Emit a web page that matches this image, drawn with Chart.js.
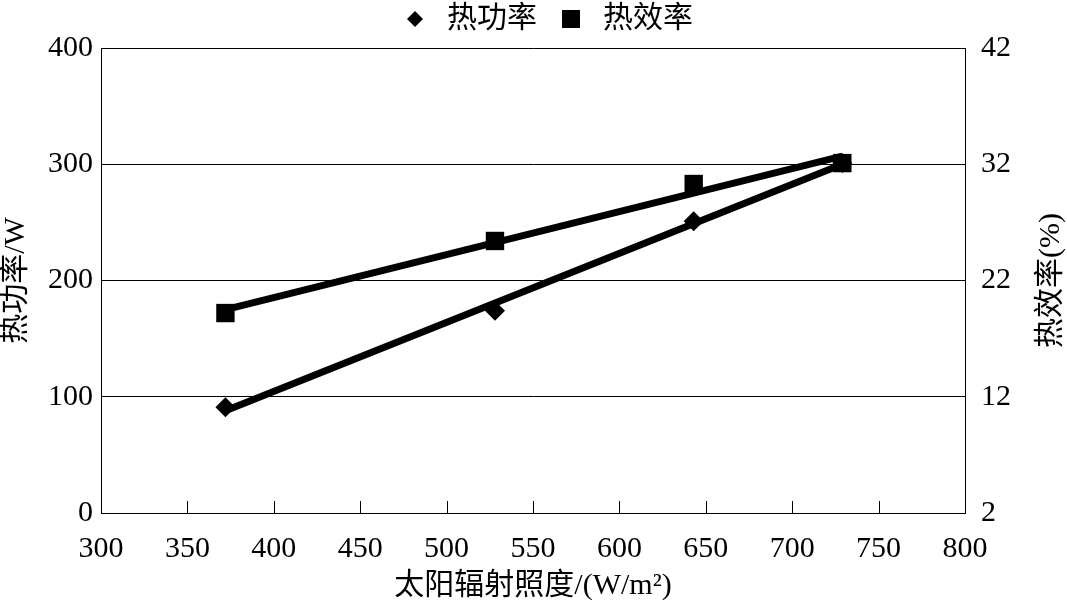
<!DOCTYPE html>
<html>
<head>
<meta charset="utf-8">
<script src="https://cdn.jsdelivr.net/npm/chart.js@4/dist/chart.umd.min.js"></script>
<style>
  html, body { margin: 0; padding: 0; background: #fff; }
  #wrap { width: 1067px; height: 604px; }
</style>
</head>
<body>
<div id="wrap"><canvas id="chart" width="1067" height="604"></canvas></div>
<script>
// values
const irradiance = [372, 528, 643, 729];
const heatPower = [91, 174, 251, 301];
const heatEff = [19.2, 25.4, 30.3, 32.1];

// linear trend lines (end values)
const trendX = [372, 729];
const powerTrend = [88, 300];
const effTrend = [19.5, 32.7];

const xTicks = { min: 300, max: 800, step: 50 };
const powerTicks = { min: 0, max: 400, step: 100 };
const effTicks = { min: 2, max: 42, step: 10 };

const serif = "'Liberation Serif', 'Noto Sans CJK SC', serif";

const toPoints = (xs, ys) => xs.map((x, i) => ({ x: x, y: ys[i] }));

// small marker images for the legend
function markerCanvas(kind) {
    const c = document.createElement('canvas');
    const s = kind === 'diamond' ? 16 : 18;
    c.width = s; c.height = s;
    const g = c.getContext('2d');
    g.fillStyle = '#000';
    if (kind === 'diamond') {
        g.beginPath();
        g.moveTo(s / 2, 0); g.lineTo(s, s / 2); g.lineTo(s / 2, s); g.lineTo(0, s / 2);
        g.closePath(); g.fill();
    } else {
        g.fillRect(0, 0, s, s);
    }
    return c;
}
const legendMarks = [markerCanvas('diamond'), markerCanvas('square')];

// ticks on the x axis point into the plot
const innerTicks = {
    id: 'innerTicks',
    afterDraw(chart) {
        const x = chart.scales.x;
        const ctx = chart.ctx;
        const bottom = chart.chartArea.bottom;
        ctx.save();
        ctx.strokeStyle = '#000';
        ctx.lineWidth = 1;
        x.ticks.forEach(t => {
            const px = Math.round(x.getPixelForValue(t.value)) + 0.5;
            ctx.beginPath();
            ctx.moveTo(px, bottom);
            ctx.lineTo(px, bottom - 12);
            ctx.stroke();
        });
        ctx.restore();
    }
};

// right axis title reads bottom to top
const rightTitle = {
    id: 'rightTitle',
    afterDraw(chart) {
        const a = chart.chartArea;
        const ctx = chart.ctx;
        ctx.save();
        ctx.translate(a.right + 86, (a.top + a.bottom) / 2);
        ctx.rotate(-Math.PI / 2);
        ctx.font = '30px ' + serif;
        ctx.fillStyle = '#000';
        ctx.textAlign = 'center';
        ctx.textBaseline = 'middle';
        ctx.fillText('热效率(%)', 0, 0);
        ctx.restore();
    }
};

Chart.defaults.color = '#000';
Chart.defaults.font.family = serif;

new Chart(document.getElementById('chart'), {
    type: 'scatter',
    data: {
        datasets: [
            {
                label: '热功率',
                data: toPoints(irradiance, heatPower),
                yAxisID: 'y',
                pointStyle: 'rectRot',
                pointRadius: 10,
                backgroundColor: '#000',
                borderColor: '#000',
                borderWidth: 0,
                order: 0
            },
            {
                label: '热效率',
                data: toPoints(irradiance, heatEff),
                yAxisID: 'y1',
                pointStyle: 'rect',
                pointRadius: 13,
                backgroundColor: '#000',
                borderColor: '#000',
                borderWidth: 0,
                order: 0
            },
            {
                label: 'powerTrend',
                data: toPoints(trendX, powerTrend),
                yAxisID: 'y',
                showLine: true,
                pointRadius: 0,
                borderColor: '#000',
                borderWidth: 7,
                order: 1
            },
            {
                label: 'effTrend',
                data: toPoints(trendX, effTrend),
                yAxisID: 'y1',
                showLine: true,
                pointRadius: 0,
                borderColor: '#000',
                borderWidth: 7,
                order: 1
            }
        ]
    },
    options: {
        responsive: false,
        animation: false,
        layout: { padding: { top: -13, right: -24, left: 0, bottom: 0 } },
        plugins: {
            tooltip: { enabled: false },
            legend: {
                position: 'top',
                labels: {
                    usePointStyle: true,
                    pointStyleWidth: 34,
                    padding: 17,
                    color: '#000',
                    font: { size: 30, family: serif },
                    filter: item => item.datasetIndex < 2,
                    generateLabels(chart) {
                        const items = Chart.defaults.plugins.legend.labels.generateLabels(chart);
                        items.forEach(it => {
                            if (it.datasetIndex < 2) it.pointStyle = legendMarks[it.datasetIndex];
                        });
                        return items;
                    }
                }
            }
        },
        scales: {
            x: {
                type: 'linear',
                min: xTicks.min,
                max: xTicks.max,
                afterFit(scale) { scale.height = 91; },
                ticks: { stepSize: xTicks.step, padding: 10, font: { size: 30 } },
                grid: { display: false },
                border: { display: true, color: '#000', width: 1 },
                title: {
                    display: true,
                    text: '太阳辐射照度/(W/m²)',
                    font: { size: 30, lineHeight: 1.1 },
                    padding: { top: 0, bottom: 1 }
                }
            },
            // empty strip between legend and plot
            xTop: {
                type: 'linear',
                axis: 'x',
                position: 'top',
                min: xTicks.min,
                max: xTicks.max,
                afterFit(scale) { scale.height = 4; },
                ticks: { display: false },
                grid: { display: false, drawTicks: false },
                border: { display: false }
            },
            y: {
                position: 'left',
                min: powerTicks.min,
                max: powerTicks.max,
                afterFit(scale) { scale.width = 101; },
                ticks: { stepSize: powerTicks.step, padding: 8, font: { size: 30 } },
                grid: { color: '#000', lineWidth: 1, drawTicks: false },
                border: { display: true, color: '#000', width: 1 },
                title: {
                    display: true,
                    text: '热功率/W',
                    font: { size: 30, lineHeight: 1.1 },
                    padding: { top: 0, bottom: 0 }
                }
            },
            y1: {
                position: 'right',
                min: effTicks.min,
                max: effTicks.max,
                afterFit(scale) { scale.width = 126; },
                ticks: { stepSize: effTicks.step, padding: 16, font: { size: 30 } },
                grid: { display: false, drawTicks: false },
                border: { display: true, color: '#000', width: 1 }
            }
        }
    },
    plugins: [innerTicks, rightTitle]
});
</script>
</body>
</html>
